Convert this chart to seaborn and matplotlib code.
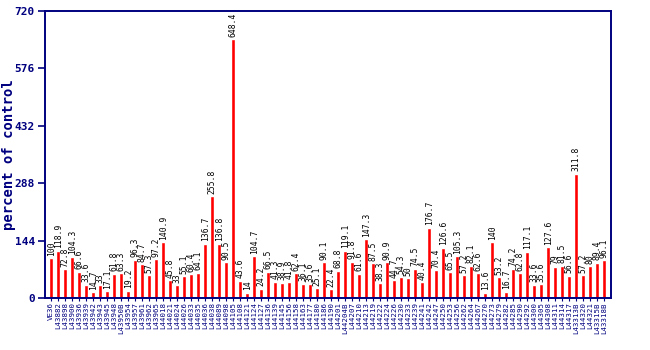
import matplotlib
matplotlib.use("Agg")
import matplotlib.pyplot as plt
import seaborn as sns
import pandas as pd

labels = ["VE36", "L43882", "L43898", "L43900", "L43936", "L43939", "L43942", "L43943", "L43945", "L43948",
          "L43950B", "L43954", "L43957", "L43961", "L43962", "L43965", "L44018", "L44021", "L44024", "L44026",
          "L44033", "L44035", "L44036", "L44038", "L44089", "L44098", "L44105", "L44108", "L44121", "L44124",
          "L44127", "L44136", "L44139", "L44145", "L44156", "L44158", "L44163", "L44177", "L44180", "L44186",
          "L44190", "L44201", "L44204B", "L44207", "L44210", "L44213", "L44219", "L44222", "L44224", "L44226",
          "L44230", "L44233", "L44239", "L44241", "L44242", "L44247", "L44250", "L44253", "L44256", "L44262",
          "L44264", "L44267", "L44270", "L44273", "L44279", "L44282", "L44285", "L44290", "L44292", "L44300",
          "L44305", "L44308", "L44311", "L44314", "L44317", "L43313B", "L44320", "L44321", "L43315B", "L43318B"]

values = [100, 118.9, 72.8, 104.3, 66.6, 33.6, 14.7, 33, 17.1, 61.8,
          63.3, 19.2, 96.3, 84.7, 57.3, 97.2, 140.9, 45.8, 33, 55.1,
          60.4, 64.1, 136.7, 255.8, 136.8, 90.5, 648.4, 43.6, 14, 104.7,
          24.2, 66.5, 41.3, 38.9, 41.8, 62.4, 36.1, 35.6, 25.1, 90.1,
          22.4, 68.8, 119.1, 91.8, 61.6, 147.3, 87.5, 38.3, 90.9, 44.7,
          54.3, 50, 74.5, 40.4, 176.7, 70.4, 126.6, 65.5, 105.3, 57.2,
          82.1, 62.6, 13.6, 140, 53.2, 16.7, 74.2, 62.8, 117.1, 33.6,
          35.6, 127.6, 79, 81.5, 56.6, 311.8, 57.2, 80, 89.4, 96.1]

yticks = [0, 144, 288, 432, 576, 720]

navy = "#000080"

sns.set_style("white")
plt.rcParams["font.family"] = ["DejaVu Sans Mono", "DejaVu Sans"]

df = pd.DataFrame({"label": labels, "value": values})

fig = plt.figure(figsize=(6.5, 3.5), dpi=100)
ax = fig.add_axes([0.0685, 0.1477, 0.8715, 0.8217])

sns.barplot(data=df, x="label", y="value", color="#ff0000", saturation=1,
            width=0.55, ax=ax, order=labels)

for i, v in enumerate(values):
    ax.text(i, v + 6, f"{v:g}", rotation=90, ha="center", va="bottom",
            fontsize=5.8, color="black")

ax.set_xlim(-0.95, len(labels) - 0.05)
ax.set_ylim(0, 720)
ax.set_yticks(yticks)
ax.set_yticklabels([str(t) for t in yticks], fontsize=8, fontweight="bold", color=navy)
ax.set_xticks(range(len(labels)))
ax.set_xticklabels(labels, rotation=90, fontsize=5.3, color=navy)
ax.tick_params(axis="y", direction="out", length=5, width=1.2, color=navy, pad=2, left=True)
ax.tick_params(axis="x", direction="out", length=2, width=0.8, color=navy, pad=1, bottom=True)
ax.set_xlabel("")
ax.set_ylabel("percent of control", fontsize=10, color=navy, fontweight="bold")
ax.yaxis.set_label_coords(-0.05, 0.5)
for s in ax.spines.values():
    s.set_visible(True)
    s.set_color(navy)
    s.set_linewidth(1.4)

fig.savefig("out.png", dpi=100)
